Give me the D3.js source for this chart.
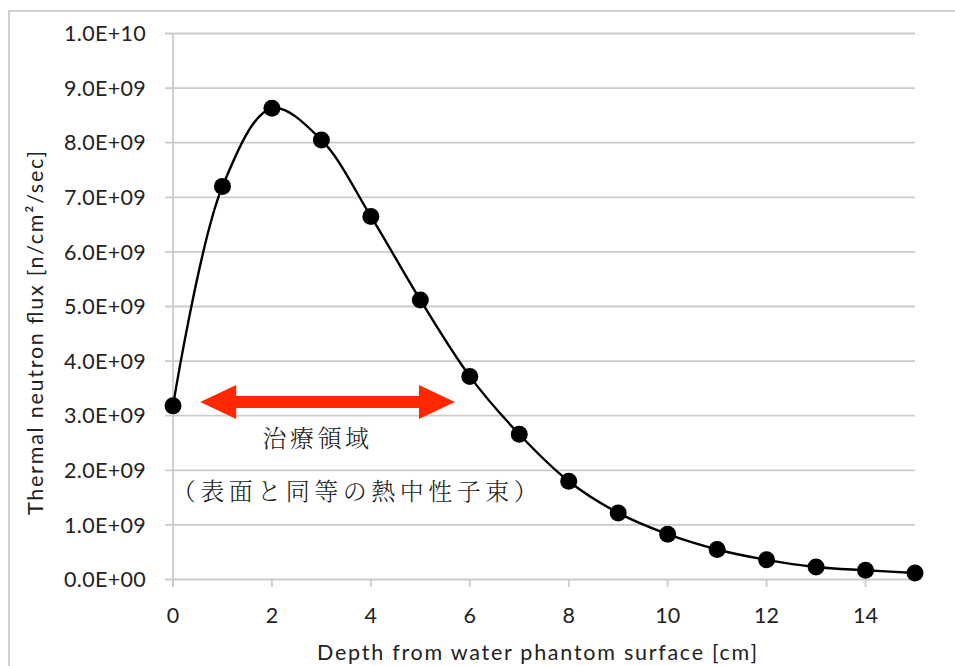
<!DOCTYPE html>
<html>
<head>
<meta charset="utf-8">
<script src="https://cdn.jsdelivr.net/npm/d3@7"></script>
<style>
  html, body { margin: 0; padding: 0; background: #ffffff; }
  svg { display: block; }
</style>
</head>
<body>
<svg id="chart" width="955" height="666"></svg>
<script>
// ---- data ----
const depths = [0, 1, 2, 3, 4, 5, 6, 7, 8, 9, 10, 11, 12, 13, 14, 15];
const flux = [3.18e9, 7.20e9, 8.63e9, 8.05e9, 6.65e9, 5.12e9, 3.72e9, 2.66e9,
              1.80e9, 1.22e9, 0.83e9, 0.55e9, 0.36e9, 0.23e9, 0.17e9, 0.12e9];
const xTickValues = [0, 2, 4, 6, 8, 10, 12, 14];
const yTickValues = [0, 1e9, 2e9, 3e9, 4e9, 5e9, 6e9, 7e9, 8e9, 9e9, 1e10];
const yTickLabels = ["0.0E+00", "1.0E+09", "2.0E+09", "3.0E+09", "4.0E+09", "5.0E+09",
                     "6.0E+09", "7.0E+09", "8.0E+09", "9.0E+09", "1.0E+10"];
const xTitle = "Depth from water phantom surface [cm]";
const yTitle = "Thermal neutron flux [n/cm\u00B2/sec]";
const arrowRange = [0.55, 5.7];      // depth range of the treatment-region arrow
const arrowLevel = 3.25e9;           // flux level of the arrow
const annotations = [
  { text: "治療領域", x: 2.92, y: 2.58e9 },
  { text: "（表面と同等の熱中性子束）", x: 3.72, y: 1.62e9 }
];

// ---- layout ----
const svg = d3.select("#chart");
const x = d3.scaleLinear().domain([0, 15]).range([173, 915]);
const y = d3.scaleLinear().domain([0, 1e10]).range([579.5, 33.5]);
const gridColor = "#cbcbcb";
const textColor = "#222222";
const latin = "Lato, 'Open Sans', 'Liberation Sans', sans-serif";

// outer frame (cut off at right and bottom)
svg.append("rect")
  .attr("x", 9).attr("y", 11).attr("width", 1000).attr("height", 800)
  .attr("fill", "none").attr("stroke", "#cfcfcf").attr("stroke-width", 2);

// horizontal gridlines (extend left as tick marks)
svg.append("g").selectAll("line").data(yTickValues).join("line")
  .attr("x1", x(0) - 8).attr("x2", x(15))
  .attr("y1", d => y(d)).attr("y2", d => y(d))
  .attr("stroke", gridColor).attr("stroke-width", 1.8);

// vertical axis line
svg.append("line")
  .attr("x1", x(0)).attr("x2", x(0))
  .attr("y1", y(1e10)).attr("y2", y(0) + 7.5)
  .attr("stroke", gridColor).attr("stroke-width", 1.8);

// x tick marks
svg.append("g").selectAll("line").data(xTickValues).join("line")
  .attr("x1", d => x(d)).attr("x2", d => x(d))
  .attr("y1", y(0)).attr("y2", y(0) + 7.5)
  .attr("stroke", gridColor).attr("stroke-width", 1.8);

// y tick labels
svg.append("g").selectAll("text").data(yTickValues).join("text")
  .attr("x", 146).attr("y", d => y(d))
  .attr("dy", "0.36em")
  .attr("text-anchor", "end")
  .attr("font-family", latin).attr("font-size", 21.5).attr("letter-spacing", 0.3)
  .attr("fill", textColor)
  .text((d, i) => yTickLabels[i]);

// x tick labels
svg.append("g").selectAll("text").data(xTickValues).join("text")
  .attr("x", d => x(d)).attr("y", y(0) + 36)
  .attr("dy", "0.36em")
  .attr("text-anchor", "middle")
  .attr("font-family", latin).attr("font-size", 21.5)
  .attr("fill", textColor)
  .text(d => d);

// axis titles
svg.append("text")
  .attr("x", 537).attr("y", 660)
  .attr("text-anchor", "middle")
  .attr("font-family", latin).attr("font-size", 21.5)
  .attr("textLength", 440).attr("lengthAdjust", "spacing")
  .attr("fill", textColor)
  .text(xTitle);

svg.append("text")
  .attr("transform", "translate(43,333) rotate(-90)")
  .attr("text-anchor", "middle")
  .attr("font-family", latin).attr("font-size", 21.5)
  .attr("textLength", 364).attr("lengthAdjust", "spacing")
  .attr("fill", textColor)
  .text(yTitle);

// smoothed line
const pts = depths.map((d, i) => [d, flux[i]]);
svg.append("path")
  .datum(pts)
  .attr("fill", "none").attr("stroke", "#000").attr("stroke-width", 2.4)
  .attr("d", d3.line().x(d => x(d[0])).y(d => y(d[1])).curve(d3.curveCatmullRom.alpha(0.5)));

// markers
svg.append("g").selectAll("circle").data(pts).join("circle")
  .attr("cx", d => x(d[0])).attr("cy", d => y(d[1]))
  .attr("r", 8.5).attr("fill", "#000");

// red double arrow
const ax0 = x(arrowRange[0]), ax1 = x(arrowRange[1]), ay = y(arrowLevel);
const headLen = 36, headHalf = 17, shaftHalf = 6;
const arrowPath = d3.path();
arrowPath.moveTo(ax0, ay);
arrowPath.lineTo(ax0 + headLen, ay - headHalf);
arrowPath.lineTo(ax0 + headLen, ay - shaftHalf);
arrowPath.lineTo(ax1 - headLen, ay - shaftHalf);
arrowPath.lineTo(ax1 - headLen, ay - headHalf);
arrowPath.lineTo(ax1, ay);
arrowPath.lineTo(ax1 - headLen, ay + headHalf);
arrowPath.lineTo(ax1 - headLen, ay + shaftHalf);
arrowPath.lineTo(ax0 + headLen, ay + shaftHalf);
arrowPath.lineTo(ax0 + headLen, ay + headHalf);
arrowPath.closePath();
svg.append("path").attr("d", arrowPath.toString()).attr("fill", "#ff2800");

// annotation text
svg.append("g").selectAll("text").data(annotations).join("text")
  .attr("x", d => x(d.x)).attr("y", d => y(d.y))
  .attr("dy", "0.36em")
  .attr("text-anchor", "middle")
  .attr("font-family", "'Noto Serif CJK JP', 'Noto Sans CJK JP', sans-serif")
  .attr("font-size", 24).attr("font-weight", 300)
  .attr("letter-spacing", (d, i) => i === 0 ? 3.5 : 4.5)
  .attr("fill", "#1a1a1a")
  .text(d => d.text);
</script>
</body>
</html>
